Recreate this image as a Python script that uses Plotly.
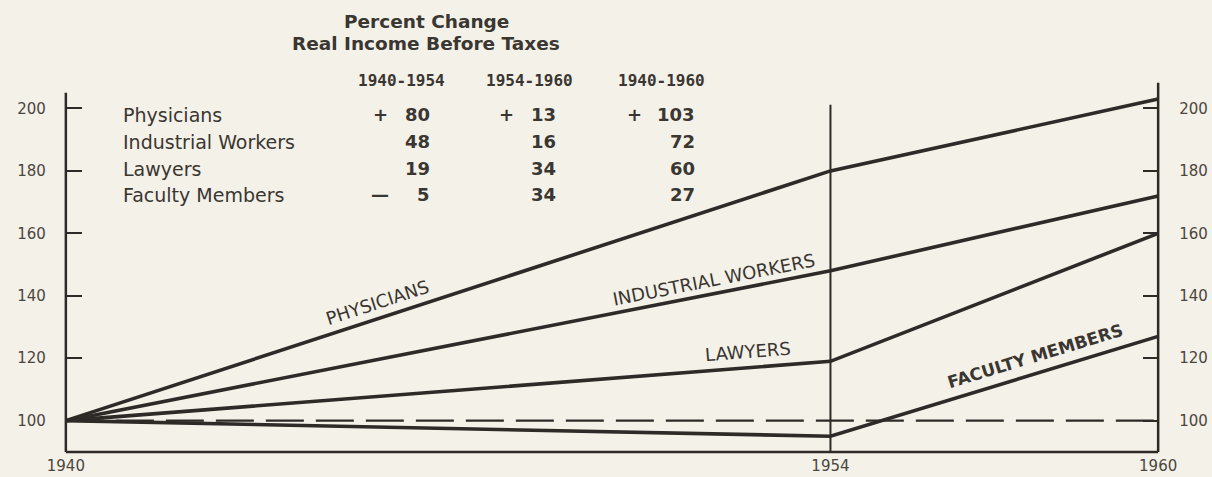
import math
import plotly.graph_objects as go

# ---- data -------------------------------------------------------------
years = [1940, 1954, 1960]
groups = ["Physicians", "Industrial Workers", "Lawyers", "Faculty Members"]
line_labels = ["PHYSICIANS", "INDUSTRIAL WORKERS", "LAWYERS", "FACULTY MEMBERS"]
# percent change in real income before taxes
chg_1940_1954 = [80, 48, 19, -5]
chg_1954_1960 = [13, 16, 34, 34]
chg_1940_1960 = [103, 72, 60, 27]
period_labels = ["1940-1954", "1954-1960", "1940-1960"]
base_index = 100
y_ticks = [100, 120, 140, 160, 180, 200]

# index values (1940 = 100)
series = [
    [base_index, base_index + a, base_index + c]
    for a, c in zip(chg_1940_1954, chg_1940_1960)
]

# ---- look -------------------------------------------------------------
W, H = 1212, 477
M_L, M_R, M_T, M_B = 44, 32, 71, 21.5
X_RANGE = [1939.6, 1960.4]
Y_RANGE = [89, 212]
PLOT_W = W - M_L - M_R
PLOT_H = H - M_T - M_B
PX_PER_YEAR = PLOT_W / (X_RANGE[1] - X_RANGE[0])
PX_PER_UNIT = PLOT_H / (Y_RANGE[1] - Y_RANGE[0])

BG = "#f4f1e8"
INK = "#2e2a27"
TEXT = "#3a3632"
TICK_TEXT = "#4a4641"
FONT = "DejaVu Sans"


def paper_x(px):
    return (px - M_L) / PLOT_W


def paper_y(py):
    return (H - M_B - py) / PLOT_H


def note(px, py, text, size, xanchor="center", family=FONT):
    return dict(
        x=paper_x(px), y=paper_y(py), xref="paper", yref="paper",
        text=text, showarrow=False, xanchor=xanchor, yanchor="middle",
        font=dict(family=family, size=size, color=TEXT),
    )


fig = go.Figure()

# 100 baseline (dashed)
fig.add_trace(go.Scatter(
    x=[years[0], years[-1]], y=[base_index, base_index], mode="lines",
    line=dict(color=INK, width=2.2, dash="38px,12px"),
    yaxis="y2", hoverinfo="skip", showlegend=False,
))

for name, ys in zip(groups, series):
    fig.add_trace(go.Scatter(
        x=years, y=ys, mode="lines", name=name,
        line=dict(color=INK, width=3.6),
        showlegend=False,
    ))

# ---- frame ------------------------------------------------------------
frame = dict(color=INK, width=2.5)
shapes = [
    dict(type="line", xref="x", yref="y", x0=1940, x1=1940, y0=90, y1=205, line=frame),
    dict(type="line", xref="x", yref="y", x0=1960, x1=1960, y0=90, y1=208.2, line=frame),
    dict(type="line", xref="x", yref="y", x0=1940, x1=1960, y0=90, y1=90, line=frame),
    dict(type="line", xref="x", yref="y", x0=1954, x1=1954, y0=90, y1=201.2,
         line=dict(color=INK, width=2)),
]

# ---- labels along the lines --------------------------------------------
annotations = []
# (series index, year of label centre, pixel offset above line, segment, bold)
label_spots = [
    (0, 1945.70, 16, 0, False),
    (1, 1951.87, 14, 0, False),
    (2, 1952.49, 16, 0, False),
    (3, 1957.75, 18, 1, True),
]
for idx, yr, shift, seg, bold in label_spots:
    x0, x1 = years[seg], years[seg + 1]
    y0, y1 = series[idx][seg], series[idx][seg + 1]
    y_at = y0 + (y1 - y0) * (yr - x0) / (x1 - x0)
    angle = math.degrees(math.atan2((y1 - y0) * PX_PER_UNIT, (x1 - x0) * PX_PER_YEAR))
    text = line_labels[idx]
    annotations.append(dict(
        x=yr, y=y_at, xref="x", yref="y", text=f"<b>{text}</b>" if bold else text,
        showarrow=False, textangle=-angle, yshift=shift,
        xanchor="center", yanchor="middle",
        font=dict(family=FONT, size=17 if bold else 18, color=TEXT),
    ))

# ---- table ------------------------------------------------------------
annotations.append(note(426, 21, "<b>Percent Change</b>", 18.5))
annotations.append(note(426, 43, "<b>Real Income Before Taxes</b>", 18.5))

col_centers = [401, 529, 661]
col_right = [432, 558, 697]
col_sign = [380, 506, 634]
for cx, lab in zip(col_centers, period_labels):
    annotations.append(note(cx, 81, f"<b>{lab}</b>", 16, family="DejaVu Sans Mono"))

row_y = [115, 142, 169, 195]
columns = [chg_1940_1954, chg_1954_1960, chg_1940_1960]
for r, (name, ry) in enumerate(zip(groups, row_y)):
    annotations.append(note(121, ry, name, 19, xanchor="left"))
    for c, vals in enumerate(columns):
        v = vals[r]
        annotations.append(note(col_right[c], ry, f"<b>{abs(v)}</b>", 18, xanchor="right"))
        sign = "—" if v < 0 else ("+" if r == 0 else "")
        if sign:
            annotations.append(note(col_sign[c], ry, f"<b>{sign}</b>", 18))

left_pos = paper_x(M_L + (1940 - X_RANGE[0]) * PX_PER_YEAR)
right_pos = paper_x(M_L + (1960 - X_RANGE[0]) * PX_PER_YEAR)

y_common = dict(
    range=Y_RANGE, tickvals=y_ticks, ticks="inside", ticklen=15, tickwidth=2,
    tickcolor=INK, showgrid=False, zeroline=False, showline=False,
    tickfont=dict(family=FONT, size=15, color=TICK_TEXT),
    ticklabelstandoff=20, anchor="free", fixedrange=True,
)

fig.update_layout(
    width=W, height=H,
    margin=dict(l=M_L, r=M_R, t=M_T, b=M_B, autoexpand=False),
    paper_bgcolor=BG, plot_bgcolor=BG,
    xaxis=dict(range=X_RANGE, tickvals=years, ticks="", showgrid=False,
               zeroline=False, showline=False, fixedrange=True,
               tickfont=dict(family=FONT, size=15, color=TICK_TEXT)),
    yaxis=dict(side="left", position=left_pos, **y_common),
    yaxis2=dict(side="right", position=right_pos, overlaying="y", **y_common),
    shapes=shapes,
    annotations=annotations,
    showlegend=False,
)

fig.write_html("out.html")
